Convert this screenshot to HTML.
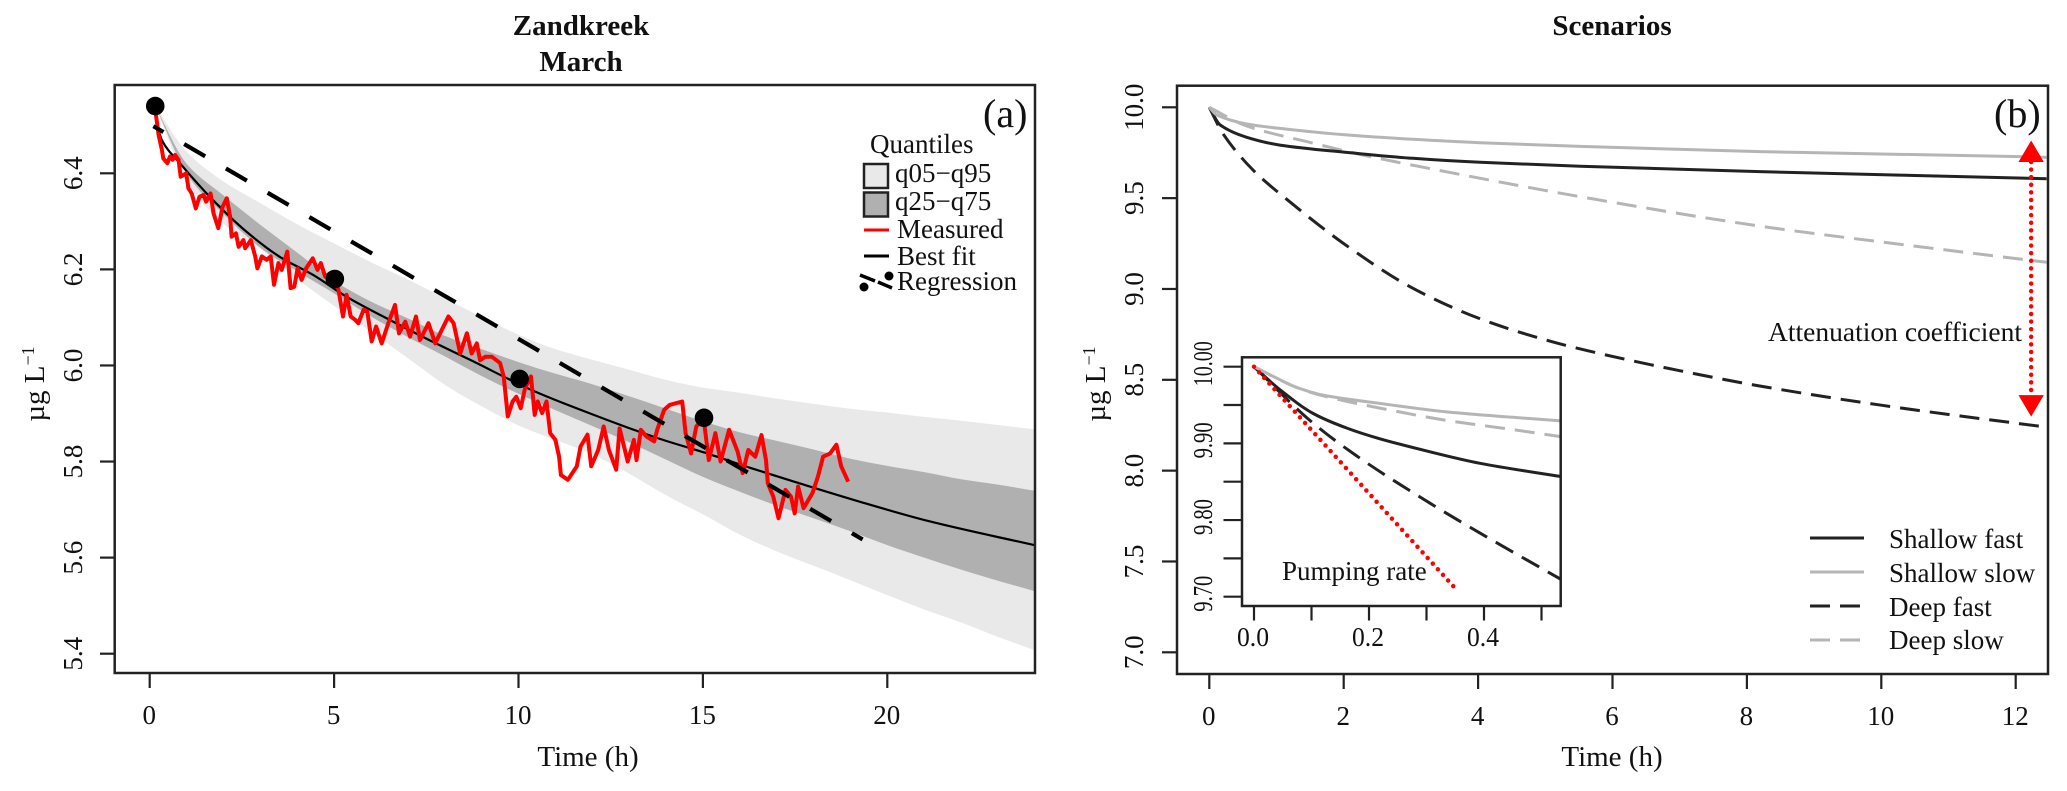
<!DOCTYPE html>
<html lang="en">
<head>
<meta charset="utf-8">
<title>Zandkreek March and Scenarios</title>
<style>
html,body{margin:0;padding:0;background:#fff;}
svg{display:block;}
text{font-family:"Liberation Serif","DejaVu Serif",serif;fill:#111;font-size:27px;}
.title{font-weight:bold;font-size:29px;text-anchor:middle;}
.axis-title{font-size:29px;text-anchor:middle;}
</style>
</head>
<body>
<svg id="chart" xmlns="http://www.w3.org/2000/svg" width="2067" height="791" viewBox="0 0 2067 791">
  <defs>
    <clipPath id="clip-a"><rect x="115" y="85" width="920" height="588"/></clipPath>
    <clipPath id="clip-b"><rect x="1177" y="86" width="871" height="588"/></clipPath>
    <clipPath id="clip-i"><rect x="1242" y="357" width="319" height="249"/></clipPath>
  </defs>
  <rect x="0" y="0" width="2067" height="791" fill="#fff"/>
  <g id="panel-a"></g>
  <g id="panel-b"></g>
  <g id="inset"></g>

  <text class="title" x="581" y="35">Zandkreek</text>
  <text class="title" x="581" y="71">March</text>
  <text class="title" x="1612" y="35">Scenarios</text>

  <text class="axis-title" x="588" y="766">Time (h)</text>
  <text class="axis-title" x="1612" y="766">Time (h)</text>
  <text class="axis-title" transform="translate(44 384) rotate(-90)">µg L<tspan dy="-10" font-size="18">−1</tspan></text>
  <text class="axis-title" transform="translate(1105 384) rotate(-90)">µg L<tspan dy="-10" font-size="18">−1</tspan></text>

  <text x="983" y="127" font-size="40" style="font-size:40px">(a)</text>
  <text x="1994" y="127" font-size="40" style="font-size:40px">(b)</text>

  <g>
    <text x="870" y="153">Quantiles</text>
    <rect x="864" y="164" width="24" height="24" fill="#e9e9e9" stroke="#222" stroke-width="2.5"/>
    <text x="895" y="182">q05−q95</text>
    <rect x="864" y="192.500" width="24" height="24" fill="#b0b0b0" stroke="#222" stroke-width="2.5"/>
    <text x="895" y="210">q25−q75</text>
    <line x1="864" y1="230" x2="889" y2="230" stroke="#f00" stroke-width="3"/>
    <text x="897" y="238">Measured</text>
    <line x1="864" y1="256" x2="889" y2="256" stroke="#000" stroke-width="3"/>
    <text x="897" y="265">Best fit</text>
    <line x1="860" y1="275" x2="875" y2="281" stroke="#000" stroke-width="3.500"/>
    <line x1="878" y1="282" x2="892" y2="288" stroke="#000" stroke-width="3.500"/>
    <circle cx="864" cy="287" r="4.500" fill="#000"/>
    <circle cx="889" cy="276" r="4.500" fill="#000"/>
    <text x="897" y="290">Regression</text>
  </g>

  <text x="1768" y="341" textLength="254" lengthAdjust="spacingAndGlyphs">Attenuation coefficient</text>
  <text x="1282" y="580">Pumping rate</text>

  <g>
    <line x1="1810" y1="538" x2="1864" y2="538" stroke="#222" stroke-width="3"/>
    <line x1="1810" y1="572" x2="1864" y2="572" stroke="#b5b5b5" stroke-width="3"/>
    <line x1="1810" y1="606" x2="1860" y2="606" stroke="#222" stroke-width="3" stroke-dasharray="20 10"/>
    <line x1="1810" y1="640" x2="1860" y2="640" stroke="#b5b5b5" stroke-width="3" stroke-dasharray="20 10"/>
    <text x="1889" y="548">Shallow fast</text>
    <text x="1889" y="582">Shallow slow</text>
    <text x="1889" y="616">Deep fast</text>
    <text x="1889" y="649">Deep slow</text>
  </g>
</svg>
<script>
/* ---------- Panel (a) data ---------- */
var aXTicks = [0, 5, 10, 15, 20];
var aYTicks = [5.4, 5.6, 5.8, 6.0, 6.2, 6.4];
var aYTickLabels = ['5.4', '5.6', '5.8', '6.0', '6.2', '6.4'];
var bandTimes = [0.15,1,2,3,4,5,6,7,8,9,10,11,12,13,14,15,16,17,18,19,20,21,22,23,24];
var q95 = [6.54,6.445,6.383,6.338,6.294,6.254,6.215,6.179,6.14,6.101,6.064,6.034,6.012,5.991,5.97,5.954,5.943,5.931,5.92,5.91,5.902,5.893,5.885,5.876,5.867];
var q75 = [6.54,6.42,6.354,6.293,6.235,6.176,6.133,6.098,6.062,6.034,6.007,5.983,5.961,5.936,5.91,5.884,5.861,5.843,5.825,5.806,5.791,5.778,5.763,5.752,5.739];
var q25 = [6.54,6.4,6.315,6.245,6.196,6.15,6.102,6.059,6.019,5.978,5.941,5.907,5.874,5.84,5.804,5.768,5.737,5.708,5.682,5.655,5.626,5.6,5.575,5.552,5.53];
var q05 = [6.54,6.385,6.295,6.243,6.18,6.124,6.07,6.015,5.96,5.915,5.875,5.845,5.815,5.775,5.73,5.69,5.648,5.613,5.583,5.553,5.522,5.492,5.465,5.435,5.407];
var bestFitTimes = [0.1,0.33,0.82,1.72,2.63,3.53,4.44,5.34,6.43,7.68,8.6,10.47,11.91,13.76,15.11,16.28,17.52,19.18,21.12,23.98];
var bestFitValues = [6.54,6.469,6.421,6.344,6.278,6.226,6.188,6.143,6.098,6.049,6.015,5.945,5.901,5.849,5.817,5.787,5.757,5.718,5.676,5.626];
var regressionTimes = [0.1, 19.33];
var regressionValues = [6.498, 5.638];
var dotTimes = [0.15, 5.02, 10.03, 15.03];
var dotValues = [6.54, 6.18, 5.972, 5.891];
var measuredTimes = [0.17,0.24,0.33,0.37,0.48,0.55,0.62,0.69,0.78,0.84,0.99,1.05,1.14,1.25,1.35,1.46,1.53,1.65,1.73,1.86,1.98,2.09,2.18,2.22,2.34,2.41,2.54,2.59,2.74,2.86,2.92,3.04,3.17,3.28,3.37,3.49,3.58,3.73,3.82,3.92,4.01,4.12,4.24,4.42,4.55,4.64,4.76,4.89,5.03,5.12,5.24,5.34,5.45,5.57,5.66,5.8,5.9,6.02,6.14,6.29,6.47,6.65,6.76,6.93,7.06,7.22,7.33,7.56,7.74,7.92,8.1,8.24,8.42,8.6,8.73,8.87,8.96,9.1,9.28,9.5,9.6,9.71,9.84,9.94,10.06,10.18,10.34,10.44,10.52,10.64,10.76,10.86,11.0,11.1,11.15,11.34,11.58,11.68,11.87,11.97,12.16,12.31,12.45,12.65,12.74,12.96,13.13,13.2,13.32,13.47,13.68,13.76,13.95,14.1,14.44,14.53,14.68,14.82,15.02,15.16,15.34,15.48,15.71,15.94,16.08,16.23,16.42,16.59,16.71,16.76,16.91,17.05,17.24,17.39,17.49,17.58,17.73,17.97,18.12,18.26,18.45,18.62,18.75,18.94];
var measuredValues = [6.521,6.48,6.449,6.431,6.421,6.435,6.428,6.438,6.428,6.393,6.4,6.369,6.358,6.327,6.351,6.355,6.341,6.358,6.317,6.286,6.331,6.348,6.31,6.268,6.275,6.247,6.261,6.244,6.261,6.227,6.202,6.227,6.22,6.227,6.168,6.213,6.199,6.237,6.161,6.164,6.202,6.178,6.202,6.223,6.199,6.213,6.185,6.192,6.181,6.157,6.102,6.147,6.102,6.095,6.088,6.116,6.112,6.05,6.081,6.046,6.088,6.126,6.067,6.091,6.06,6.102,6.053,6.088,6.046,6.074,6.102,6.088,6.025,6.067,6.025,6.046,6.011,6.018,6.018,6.005,5.977,5.894,5.925,5.935,5.911,5.953,5.977,5.897,5.925,5.901,5.925,5.859,5.845,5.81,5.772,5.762,5.79,5.831,5.856,5.79,5.824,5.873,5.824,5.783,5.869,5.8,5.845,5.803,5.866,5.852,5.842,5.866,5.908,5.918,5.925,5.859,5.817,5.873,5.89,5.803,5.859,5.8,5.866,5.821,5.776,5.824,5.81,5.855,5.803,5.755,5.727,5.682,5.741,5.727,5.692,5.748,5.703,5.734,5.769,5.81,5.817,5.835,5.79,5.758];

/* ---------- Panel (b) data ---------- */
var bXTicks = [0, 2, 4, 6, 8, 10, 12];
var bYTicks = [7.0, 7.5, 8.0, 8.5, 9.0, 9.5, 10.0];
var bYTickLabels = ['7.0', '7.5', '8.0', '8.5', '9.0', '9.5', '10.0'];
var shallowSlowTimes = [0,0.11,0.556,1.05,2.04,3.03,4.03,5.52,8.19,12.16,12.46];
var shallowSlowValues = [10,9.958,9.908,9.884,9.848,9.824,9.805,9.785,9.756,9.728,9.724];
var shallowFastTimes = [0,0.16,0.556,1.05,2.04,3.03,4.03,5.52,8.19,12.46];
var shallowFastValues = [10,9.903,9.835,9.792,9.752,9.719,9.697,9.675,9.646,9.607];
var deepSlowTimes = [0,0.556,1.45,2.29,3.53,4.52,5.52,8.19,10.17,12.46];
var deepSlowValues = [10,9.897,9.811,9.737,9.645,9.575,9.508,9.346,9.251,9.147];
var deepFastTimes = [0,0.2,0.65,1.15,2,3,4,5,5.63,7,8.19,10,12.46];
var deepFastValues = [10,9.857,9.655,9.494,9.25,9.01,8.84,8.72,8.66,8.55,8.466,8.36,8.239];
var arrowTime = [12.23];
var arrowTopValue = [9.699];
var arrowBottomValue = [8.416];

/* ---------- Inset data ---------- */
var iXTicks = [0, 0.1, 0.2, 0.3, 0.4, 0.5];
var iXTickLabels = ['0.0', '', '0.2', '', '0.4', ''];
var iYTicks = [9.70, 9.75, 9.80, 9.85, 9.90, 9.95, 10.00];
var iYTickLabels = ['9.70', '', '9.80', '', '9.90', '', '10.00'];
var iShallowSlowTimes = [0,0.045,0.074,0.12,0.22,0.335,0.45,0.54];
var iShallowSlowValues = [10,9.983,9.973,9.963,9.952,9.941,9.934,9.929];
var iShallowFastTimes = [0,0.045,0.103,0.161,0.219,0.306,0.393,0.54];
var iShallowFastValues = [10,9.97,9.939,9.92,9.906,9.889,9.874,9.856];
var iDeepSlowTimes = [0,0.074,0.12,0.219,0.335,0.45,0.54];
var iDeepSlowValues = [10,9.973,9.962,9.946,9.93,9.918,9.908];
var iDeepFastTimes = [0,0.097,0.176,0.306,0.393,0.54];
var iDeepFastValues = [10,9.93,9.885,9.822,9.783,9.72];
var pumpingTimes = [0, 0.351];
var pumpingValues = [10, 9.71];

/* ---------- Axis functions ---------- */
function ax(t){ return 149.7 + 36.88 * t; }
function ay(v){ return 653.7 - (v - 5.4) * 480.4; }
function bx(t){ return 1209.3 + 67.2 * t; }
function by(v){ return 107.3 + (10 - v) * 181.67; }
function ix(t){ return 1254 + 575 * t; }
function iy(v){ return 366.7 + (10 - v) * 766.7; }

var NS = 'http://www.w3.org/2000/svg';
function mk(parent, tag, attrs, txt){
  var el = document.createElementNS(NS, tag);
  for (var k in attrs) el.setAttribute(k, attrs[k]);
  if (txt !== undefined) el.textContent = txt;
  parent.appendChild(el);
  return el;
}
function pathOf(xs, ys, fx, fy){
  var d = '';
  for (var i = 0; i < xs.length; i++) d += (i ? 'L' : 'M') + fx(xs[i]).toFixed(1) + ' ' + fy(ys[i]).toFixed(1);
  return d;
}
/* monotone cubic segments through pixel-mapped data points */
function curveSegs(px, py){
  var n = px.length, s = [], m = [], i, d = '';
  for (i = 0; i < n - 1; i++) s.push((py[i + 1] - py[i]) / (px[i + 1] - px[i]));
  m[0] = s[0];
  m[n - 1] = s[n - 2];
  for (i = 1; i < n - 1; i++) {
    m[i] = s[i - 1] * s[i] <= 0 ? 0 : 2 * s[i - 1] * s[i] / (s[i - 1] + s[i]);
  }
  for (i = 0; i < n - 1; i++) {
    var h = (px[i + 1] - px[i]) / 3;
    d += 'C' + (px[i] + h).toFixed(1) + ' ' + (py[i] + m[i] * h).toFixed(1) + ' ' +
         (px[i + 1] - h).toFixed(1) + ' ' + (py[i + 1] - m[i + 1] * h).toFixed(1) + ' ' +
         px[i + 1].toFixed(1) + ' ' + py[i + 1].toFixed(1);
  }
  return d;
}
function curveOf(xs, ys, fx, fy){
  var px = xs.map(fx), py = ys.map(fy);
  return 'M' + px[0].toFixed(1) + ' ' + py[0].toFixed(1) + curveSegs(px, py);
}
function bandOf(xs, hi, lo, fx, fy){
  var d = curveOf(xs, hi, fx, fy);
  var n = xs.length, k, segs = '';
  for (k = n - 2; k >= 0; k--) {
    var h = (fx(xs[k + 1]) - fx(xs[k])) / 3;
    var sl = k < n - 2 ? (fy(lo[k + 2]) - fy(lo[k])) / (fx(xs[k + 2]) - fx(xs[k])) : (fy(lo[k + 1]) - fy(lo[k])) / (fx(xs[k + 1]) - fx(xs[k]));
    var sr = k > 0 ? (fy(lo[k + 1]) - fy(lo[k - 1])) / (fx(xs[k + 1]) - fx(xs[k - 1])) : (fy(lo[k + 1]) - fy(lo[k])) / (fx(xs[k + 1]) - fx(xs[k]));
    segs += 'C' + (fx(xs[k + 1]) - h).toFixed(1) + ' ' + (fy(lo[k + 1]) - sl * h).toFixed(1) + ' ' +
            (fx(xs[k]) + h).toFixed(1) + ' ' + (fy(lo[k]) + sr * h).toFixed(1) + ' ' +
            fx(xs[k]).toFixed(1) + ' ' + fy(lo[k]).toFixed(1);
  }
  return d + 'L' + fx(xs[n - 1]).toFixed(1) + ' ' + fy(lo[n - 1]).toFixed(1) + segs + 'Z';
}

var pa = document.getElementById('panel-a');
var pb = document.getElementById('panel-b');
var pi = document.getElementById('inset');
var el, i;

/* ---------- Panel (a) ---------- */
var ga = mk(pa, 'g', {'clip-path': 'url(#clip-a)'});
el = mk(ga, 'path', {d: bandOf(bandTimes, q95, q05, ax, ay), fill: '#e9e9e9'});


el = mk(ga, 'path', {d: bandOf(bandTimes, q75, q25, ax, ay), fill: '#b0b0b0'});


el = mk(ga, 'path', {d: curveOf(bestFitTimes, bestFitValues, ax, ay), fill: 'none', stroke: '#000', 'stroke-width': 2.2});


el = mk(ga, 'path', {d: pathOf(measuredTimes, measuredValues, ax, ay), fill: 'none', stroke: '#f00', 'stroke-width': 4, 'stroke-linejoin': 'round'});


el = mk(ga, 'path', {d: pathOf(regressionTimes, regressionValues, ax, ay), fill: 'none', stroke: '#000', 'stroke-width': 4.2, 'stroke-dasharray': '24.3 24', 'stroke-dashoffset': 12.7});


for (i = 0; i < dotTimes.length; i++) {
  el = mk(ga, 'circle', {cx: ax(dotTimes[i]), cy: ay(dotValues[i]), r: 9.3, fill: '#000'});
  
  
}
el = mk(pa, 'rect', {x: 114.7, y: 85, width: 920.3, height: 588, fill: 'none', stroke: '#222', 'stroke-width': 2.5});


for (i = 0; i < aXTicks.length; i++) {
  el = mk(pa, 'line', {x1: ax(aXTicks[i]), x2: ax(aXTicks[i]), y1: 673, y2: 688, stroke: '#222', 'stroke-width': 2.2});
  
  
  el = mk(pa, 'text', {x: ax(aXTicks[i]) - 0.5, y: 724, 'text-anchor': 'middle'}, String(aXTicks[i]));
  
  
}
for (i = 0; i < aYTicks.length; i++) {
  el = mk(pa, 'line', {x1: 100, x2: 114.7, y1: ay(aYTicks[i]), y2: ay(aYTicks[i]), stroke: '#222', 'stroke-width': 2.2});
  
  
  el = mk(pa, 'text', {transform: 'translate(82 ' + ay(aYTicks[i]) + ') rotate(-90)', 'text-anchor': 'middle'}, aYTickLabels[i]);
  
  
}

/* ---------- Panel (b) ---------- */
var gb = mk(pb, 'g', {'clip-path': 'url(#clip-b)'});
el = mk(gb, 'path', {d: curveOf(deepFastTimes, deepFastValues, bx, by), fill: 'none', stroke: '#222', 'stroke-width': 3, 'stroke-dasharray': '20 10'});


el = mk(gb, 'path', {d: curveOf(deepSlowTimes, deepSlowValues, bx, by), fill: 'none', stroke: '#b5b5b5', 'stroke-width': 3, 'stroke-dasharray': '20 10'});


el = mk(gb, 'path', {d: curveOf(shallowFastTimes, shallowFastValues, bx, by), fill: 'none', stroke: '#222', 'stroke-width': 3});


el = mk(gb, 'path', {d: curveOf(shallowSlowTimes, shallowSlowValues, bx, by), fill: 'none', stroke: '#b5b5b5', 'stroke-width': 3});



var arX = bx(arrowTime[0]), arTop = by(arrowTopValue[0]), arBot = by(arrowBottomValue[0]);
el = mk(pb, 'line', {x1: arX, x2: arX, y1: arTop, y2: arBot, stroke: '#f00', 'stroke-width': 4.5, 'stroke-linecap': 'round', 'stroke-dasharray': '0 7.6'});


el = mk(pb, 'path', {d: 'M' + (arX - 12.7) + ' ' + arTop + 'L' + (arX + 12.7) + ' ' + arTop + 'L' + arX + ' ' + (arTop - 21.5) + 'Z', fill: '#f00'});


el = mk(pb, 'path', {d: 'M' + (arX - 12.7) + ' ' + arBot + 'L' + (arX + 12.7) + ' ' + arBot + 'L' + arX + ' ' + (arBot + 21.5) + 'Z', fill: '#f00'});



el = mk(pb, 'rect', {x: 1177, y: 85.7, width: 871, height: 588.3, fill: 'none', stroke: '#222', 'stroke-width': 2.5});


for (i = 0; i < bXTicks.length; i++) {
  el = mk(pb, 'line', {x1: bx(bXTicks[i]), x2: bx(bXTicks[i]), y1: 674, y2: 689, stroke: '#222', 'stroke-width': 2.2});
  
  
  el = mk(pb, 'text', {x: bx(bXTicks[i]) - 0.5, y: 725, 'text-anchor': 'middle'}, String(bXTicks[i]));
  
  
}
for (i = 0; i < bYTicks.length; i++) {
  el = mk(pb, 'line', {x1: 1162, x2: 1177, y1: by(bYTicks[i]), y2: by(bYTicks[i]), stroke: '#222', 'stroke-width': 2.2});
  
  
  el = mk(pb, 'text', {transform: 'translate(1143 ' + by(bYTicks[i]) + ') rotate(-90)', 'text-anchor': 'middle'}, bYTickLabels[i]);
  
  
}

/* ---------- Inset ---------- */
el = mk(pi, 'rect', {x: 1242, y: 357.3, width: 318.7, height: 248.7, fill: '#fff'});


var gi = mk(pi, 'g', {'clip-path': 'url(#clip-i)'});
el = mk(gi, 'path', {d: curveOf(iDeepFastTimes, iDeepFastValues, ix, iy), fill: 'none', stroke: '#222', 'stroke-width': 3, 'stroke-dasharray': '20 10'});


el = mk(gi, 'path', {d: curveOf(iDeepSlowTimes, iDeepSlowValues, ix, iy), fill: 'none', stroke: '#b5b5b5', 'stroke-width': 3, 'stroke-dasharray': '20 10'});


el = mk(gi, 'path', {d: curveOf(iShallowFastTimes, iShallowFastValues, ix, iy), fill: 'none', stroke: '#222', 'stroke-width': 3});


el = mk(gi, 'path', {d: curveOf(iShallowSlowTimes, iShallowSlowValues, ix, iy), fill: 'none', stroke: '#b5b5b5', 'stroke-width': 3});


el = mk(gi, 'path', {d: pathOf(pumpingTimes, pumpingValues, ix, iy), fill: 'none', stroke: '#f00', 'stroke-width': 4.5, 'stroke-linecap': 'round', 'stroke-dasharray': '0 7.6'});


el = mk(pi, 'rect', {x: 1242, y: 357.3, width: 318.7, height: 248.7, fill: 'none', stroke: '#222', 'stroke-width': 2.5});


for (i = 0; i < iXTicks.length; i++) {
  el = mk(pi, 'line', {x1: ix(iXTicks[i]), x2: ix(iXTicks[i]), y1: 606, y2: 620.5, stroke: '#222', 'stroke-width': 2.2});
  
  
  if (iXTickLabels[i]) {
    el = mk(pi, 'text', {x: ix(iXTicks[i]) - 1, y: 646, 'text-anchor': 'middle', textLength: 32, lengthAdjust: 'spacingAndGlyphs'}, iXTickLabels[i]);
    
    
  }
}
for (i = 0; i < iYTicks.length; i++) {
  el = mk(pi, 'line', {x1: 1223.5, x2: 1242, y1: iy(iYTicks[i]), y2: iy(iYTicks[i]), stroke: '#222', 'stroke-width': 2.2});
  
  
  if (iYTickLabels[i]) {
    el = mk(pi, 'text', {transform: 'translate(1212 ' + (iy(iYTicks[i]) - 3) + ') rotate(-90)', 'text-anchor': 'middle', textLength: iYTickLabels[i].length > 4 ? 45 : 36, lengthAdjust: 'spacingAndGlyphs'}, iYTickLabels[i]);
    
    
  }
}
</script>
</body>
</html>
